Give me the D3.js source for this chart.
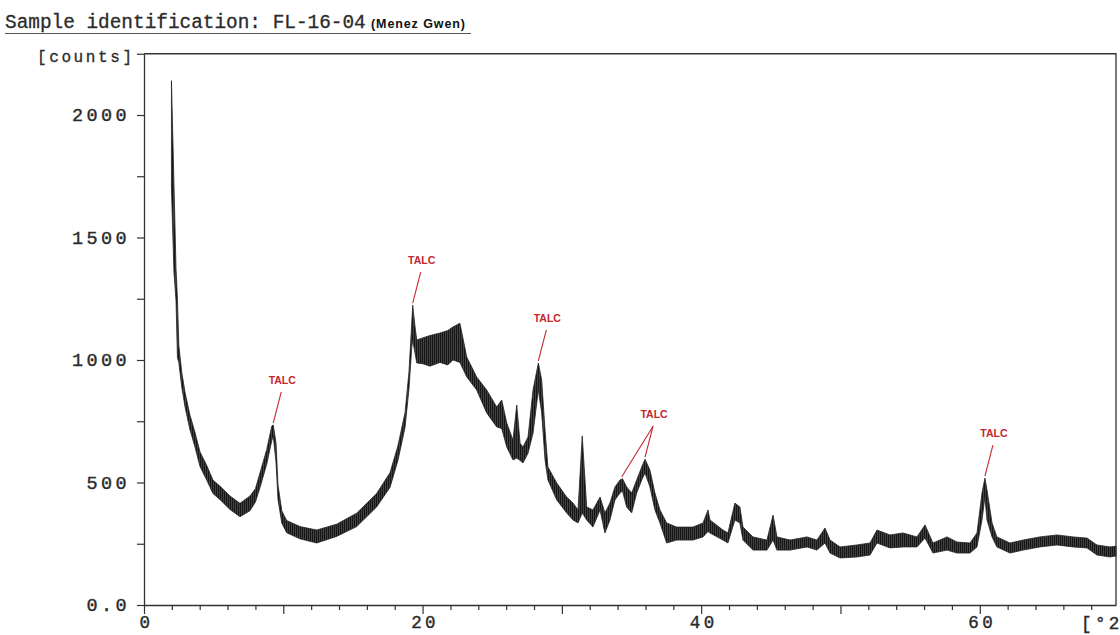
<!DOCTYPE html>
<html>
<head>
<meta charset="utf-8">
<script src="https://cdn.jsdelivr.net/npm/d3@7"></script>
<style>
  html, body { margin: 0; padding: 0; background: #fff; }
  svg { display: block; }
  .mono { font-family: 'Liberation Mono', 'DejaVu Sans Mono', monospace; fill: #2b2b2b; }
  .talc { font-family: 'Liberation Sans', Arial, sans-serif; font-weight: bold; font-size: 10.5px; fill: #c4282f; }
</style>
</head>
<body>
<svg id="chart" width="1120" height="635"></svg>
<script>
// diffractogram: 2theta, lower and upper edge of the noisy trace (counts)
const twoTheta = [1.97, 2.15, 2.30, 2.40, 2.50, 2.71, 2.94, 3.30, 3.66, 4.02, 4.50, 4.95, 5.46, 6.17, 6.89, 7.61, 8.00, 8.33, 8.81, 9.17,
  9.28, 9.48, 9.62, 9.89, 10.24, 11.2, 12.4, 13.83, 15.27, 16.7, 17.66, 18.23, 18.74, 19.02, 19.22, 19.29, 19.45, 19.58, 20.0, 20.53,
  21.25, 21.8, 22.18, 22.68, 23.17, 23.88, 24.6, 25.32, 25.68, 26.04, 26.49, 26.76, 27.0, 27.21, 27.57, 27.93, 28.31, 28.55, 28.79, 29.0,
  29.63, 30.34, 30.8, 31.16, 31.46, 31.78, 32.23, 32.74, 33.09, 33.45, 33.81, 34.17, 34.35, 34.65, 35.01, 35.37, 35.73, 35.97, 36.32, 36.68,
  37.04, 37.52, 38.24, 39.41, 40.13, 40.49, 40.63, 41.56, 41.92, 42.42, 42.78, 43.0, 43.72, 44.72, 45.16, 45.44, 46.38, 47.6, 48.31, 48.89,
  49.25, 49.97, 51.18, 52.12, 52.62, 53.55, 54.49, 55.49, 56.07, 56.64, 57.65, 58.36, 59.3, 59.8, 60.16, 60.37, 60.52, 60.88, 61.23, 62.17,
  63.1, 64.32, 65.54, 66.69, 67.7, 68.41, 69.35, 69.78];
const countsLow = [1700, 1360, 1240, 1010, 990, 890, 810, 715, 645, 565, 510, 455, 430, 390, 360, 385, 420, 480, 575, 670,
  690, 580, 430, 335, 295, 270, 253, 280, 320, 400, 480, 590, 725, 880, 1050, 1080, 1030, 988, 985, 975,
  990, 980, 1000, 990, 931, 878, 784, 727, 720, 645, 592, 600, 590, 580, 620, 702, 878, 784, 592, 510,
  429, 376, 347, 335, 376, 347, 318, 388, 294, 347, 429, 457, 465, 400, 376, 457, 510, 539, 482, 388,
  335, 253, 265, 265, 278, 300, 294, 265, 253, 347, 335, 265, 224, 224, 265, 224, 224, 237, 224, 253,
  212, 192, 196, 204, 253, 233, 237, 237, 273, 212, 224, 212, 212, 237, 347, 441, 347, 278, 237, 212,
  224, 237, 245, 237, 233, 204, 196, 200];
const countsHigh = [2140, 1720, 1370, 1250, 1060, 950, 870, 775, 705, 625, 570, 510, 485, 445, 415, 445, 475, 540, 635, 730,
  735, 660, 490, 385, 345, 320, 306, 330, 375, 455, 540, 650, 785, 950, 1150, 1224, 1140, 1082, 1090, 1100,
  1110, 1120, 1135, 1150, 1012, 931, 878, 808, 837, 743, 673, 816, 660, 645, 686, 878, 988, 918, 714, 563,
  498, 441, 416, 388, 690, 400, 388, 441, 376, 416, 482, 510, 515, 482, 457, 510, 563, 595, 551, 457,
  388, 335, 318, 318, 335, 388, 347, 306, 294, 416, 400, 318, 278, 265, 367, 278, 265, 278, 265, 314,
  265, 237, 245, 253, 306, 286, 294, 278, 327, 253, 278, 257, 253, 294, 457, 518, 469, 335, 278, 253,
  265, 278, 286, 278, 273, 245, 237, 240];

// peaks marked TALC: [2theta, counts]; one label may point at several peaks
const talcPeaks = [
  [[9.28, 735]],
  [[19.29, 1224]],
  [[28.31, 988]],
  [[34.3, 515], [35.97, 595]],
  [[60.37, 518]]
];

const yTicks = d3.range(0, 2251, 250);
const xTicks = d3.range(0, 69, 2);
const xLabels = [0, 20, 40, 60];

const svg = d3.select('#chart');

const x = d3.scaleLinear().domain([0, 69.78]).range([144, 1116]);
const y = d3.scaleLinear().domain([0, 2250]).range([605, 53.75]);

// title
svg.append('text')
  .attr('class', 'mono')
  .attr('x', 5).attr('y', 28)
  .style('font-size', '19.4px')
  .style('stroke', '#2b2b2b').style('stroke-width', 0.3)
  .text('Sample identification: FL-16-04');
svg.append('text')
  .attr('x', 371).attr('y', 28)
  .style('font-family', "'Liberation Sans', Arial, sans-serif")
  .style('font-weight', 'bold')
  .style('font-size', '12.5px')
  .style('letter-spacing', '0.9px')
  .style('fill', '#111')
  .text('(Menez Gwen)');
svg.append('line')
  .attr('x1', 5).attr('x2', 471).attr('y1', 33.5).attr('y2', 33.5)
  .style('stroke', '#555').style('stroke-width', 1);

svg.append('text')
  .attr('class', 'mono')
  .attr('x', 37).attr('y', 62)
  .style('font-size', '16px')
  .style('letter-spacing', '2.6px')
  .style('stroke', '#2b2b2b').style('stroke-width', 0.3)
  .text('[counts]');

// frame top + right
svg.append('path')
  .attr('d', `M${x(0)},${y(2250)}H${x(69.78)}V${y(0)}`)
  .style('fill', 'none').style('stroke', '#333').style('stroke-width', 1.3);

// y axis
const yAxis = svg.append('g')
  .attr('transform', `translate(${x(0)},0)`)
  .call(d3.axisLeft(y).tickValues(yTicks).tickSize(7).tickSizeOuter(0)
    .tickFormat(d => d === 0 ? '0.0' : (d % 500 === 0 ? d : '')));
yAxis.select('.domain').style('stroke', '#333').style('stroke-width', 1.3);
yAxis.selectAll('line').style('stroke', '#333').style('stroke-width', 1.2);
yAxis.selectAll('text')
  .attr('class', 'mono')
  .attr('x', -14)
  .style('font-size', '18.5px')
  .style('letter-spacing', '3.4px')
  .style('stroke', '#2b2b2b').style('stroke-width', 0.4);

// x axis
const xAxis = svg.append('g')
  .attr('transform', `translate(0,${y(0)})`)
  .call(d3.axisBottom(x).tickValues(xTicks).tickSizeOuter(0).tickFormat(d => xLabels.includes(d) ? d : ''));
xAxis.select('.domain').style('stroke', '#333').style('stroke-width', 1.3);
xAxis.selectAll('line')
  .attr('y2', d => d % 10 === 0 ? 9 : 5)
  .style('stroke', '#333').style('stroke-width', 1.2);
xAxis.selectAll('text')
  .attr('class', 'mono')
  .attr('y', 11)
  .attr('dx', '2px')
  .style('font-size', '17.5px')
  .style('letter-spacing', '3.4px')
  .style('stroke', '#2b2b2b').style('stroke-width', 0.4);

svg.append('text')
  .attr('class', 'mono')
  .attr('x', 1081).attr('y', 629)
  .style('font-size', '17.5px')
  .style('letter-spacing', '3.4px')
  .style('stroke', '#2b2b2b').style('stroke-width', 0.4)
  .text('[°2Th.]');

// trace texture: dense vertical strokes like the plotter output
const defs = svg.append('defs');
const pat = defs.append('pattern')
  .attr('id', 'strokes')
  .attr('patternUnits', 'userSpaceOnUse')
  .attr('width', 2).attr('height', 4);
pat.append('rect').attr('width', 2).attr('height', 4).style('fill', '#555');
pat.append('rect').attr('width', 1.3).attr('height', 4).style('fill', '#151515');

const trace = twoTheta.map((t, i) => ({ t, lo: countsLow[i], hi: countsHigh[i] }));

svg.append('path')
  .datum(trace)
  .attr('d', d3.area().x(d => x(d.t)).y0(d => y(d.lo)).y1(d => y(d.hi)))
  .style('fill', 'url(#strokes)')
  .style('stroke', '#222')
  .style('stroke-width', 0.8)
  .style('stroke-linejoin', 'round');

// TALC annotations
talcPeaks.forEach(peaks => {
  const px = d3.max(peaks, p => x(p[0]));
  const py = d3.min(peaks, p => y(p[1]));
  const ax = px + 8, ay = py - 33;
  peaks.forEach(p => {
    svg.append('line')
      .attr('x1', ax).attr('y1', ay)
      .attr('x2', x(p[0])).attr('y2', y(p[1]) - 2)
      .style('stroke', '#c4282f').style('stroke-width', 1.1);
  });
  svg.append('text')
    .attr('class', 'talc')
    .attr('x', ax + 1).attr('y', ay - 8)
    .attr('text-anchor', 'middle')
    .text('TALC');
});
</script>
</body>
</html>
